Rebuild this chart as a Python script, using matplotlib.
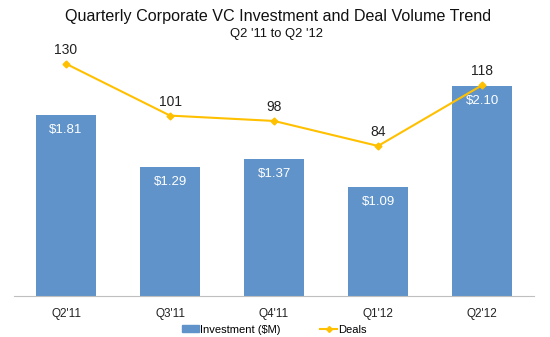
import matplotlib
matplotlib.use("Agg")
import matplotlib.pyplot as plt
from matplotlib.lines import Line2D
from matplotlib.patches import Patch

plt.rcParams['font.family'] = ['Liberation Sans', 'DejaVu Sans']

quarters = ["Q2'11", "Q3'11", "Q4'11", "Q1'12", "Q2'12"]
investment = [1.81, 1.29, 1.37, 1.09, 2.10]
deals = [130, 101, 98, 84, 118]

bar_color = '#5F93C9'
line_color = '#FFC000'

fig = plt.figure(figsize=(5.5, 3.37), dpi=100)
ax = fig.add_axes([0.0255, 0.1217, 0.9455, 0.742])
ax2 = ax.twinx()

x = list(range(len(quarters)))
ax.bar(x, investment, width=0.585, color=bar_color, zorder=2)
ax.set_xlim(-0.5, 4.5)
ax.set_ylim(0, 2.5)
ax2.set_ylim(0, 140)

for xi, v in zip(x, investment):
    ax.annotate(f"${v:.2f}", (xi, v), xytext=(0, -11), textcoords='offset points',
                ha='center', va='center', color='white', fontsize=9.5)

ax2.plot(x, deals, color=line_color, marker='D', markersize=3.5, linewidth=1.5, zorder=3)
for xi, d in zip(x, deals):
    ax2.annotate(str(d), (xi, d), xytext=(0, 10), textcoords='offset points',
                 ha='center', va='center', color='#222222', fontsize=10)

for a in (ax, ax2):
    for s in ['top', 'right', 'left']:
        a.spines[s].set_visible(False)
    a.set_yticks([])
ax2.spines['bottom'].set_visible(False)
ax.spines['bottom'].set_color('#BFBFBF')
ax.set_xticks(x)
ax.set_xticklabels(quarters, fontsize=8.5, color='#222222')
ax.tick_params(axis='x', length=0, pad=8.5)

fig.text(0.505, 0.952, "Quarterly Corporate VC Investment and Deal Volume Trend",
         ha='center', va='center', fontsize=11.6, color='#111111')
fig.text(0.502, 0.90, "Q2 '11 to Q2 '12", ha='center', va='center', fontsize=9.4, color='#111111')

handles = [Patch(color=bar_color, label='Investment ($M)'),
           Line2D([0], [0], color=line_color, marker='D', markersize=3, lw=1.5, label='Deals')]
fig.legend(handles=handles, loc='center', bbox_to_anchor=(0.499, 0.022), ncol=2, frameon=False,
           fontsize=8, handlelength=1.5, handleheight=0.55, columnspacing=3.6, handletextpad=0.1,
           borderpad=0, borderaxespad=0)

fig.savefig("out.png", dpi=100)
